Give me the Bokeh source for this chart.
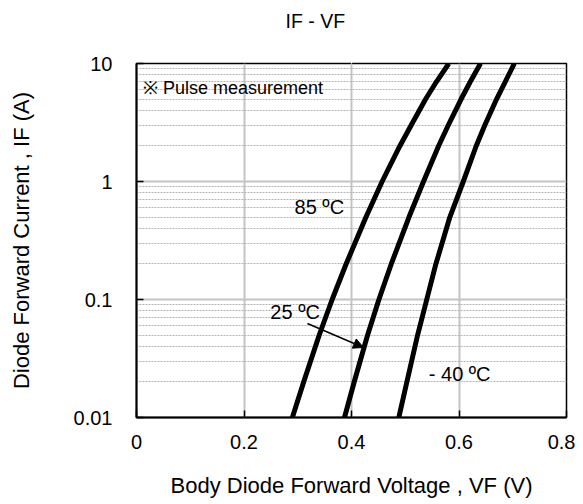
from bokeh.plotting import figure
from bokeh.models import (Range1d, FixedTicker, CustomJSTickFormatter, Label, Arrow,
                          NormalHead, ColumnDataSource, Title, LinearAxis)
from bokeh.embed import file_html
from bokeh.resources import INLINE

# ---- data ----
current_a = [0.01, 0.02, 0.05, 0.1, 0.2, 0.5, 1, 2, 3, 5, 7, 10]
vf_85c = [0.290, 0.311, 0.340, 0.364, 0.390, 0.427, 0.457, 0.490, 0.511, 0.538, 0.558, 0.581]
vf_25c = [0.387, 0.405, 0.430, 0.451, 0.474, 0.507, 0.534, 0.562, 0.580, 0.604, 0.621, 0.640]
vf_m40c = [0.488, 0.503, 0.523, 0.540, 0.557, 0.583, 0.608, 0.632, 0.648, 0.670, 0.686, 0.703]

x_ticks = [0, 0.2, 0.4, 0.6, 0.8]
y_ticks = [0.01, 0.1, 1, 10]
y_minor = [m * d for d in [0.01, 0.1, 1] for m in range(2, 10)]
spacer_tick = [0.4]

FONT = "Liberation Sans"

p = figure(width=575, height=504, x_axis_type="linear", y_axis_type="log",
           x_range=Range1d(0, 0.8), y_range=Range1d(0.01, 10),
           output_backend="svg", toolbar_location=None,
           min_border_left=136, min_border_right=9,
           min_border_top=63, min_border_bottom=87)

p.outline_line_color = "black"
p.outline_line_width = 1.5
p.background_fill_color = "white"
p.border_fill_color = "white"

xax = p.below[0]
yax = p.left[0]

# title: a white, label-less top axis used as spacing, then the title above it
spacer_axis = LinearAxis(ticker=FixedTicker(ticks=spacer_tick),
                         formatter=CustomJSTickFormatter(code="return '';"),
                         axis_line_color=None,
                         major_tick_line_color="white", minor_tick_line_color=None,
                         major_tick_in=0, major_tick_out=27, minor_tick_in=0,
                         minor_tick_out=0, major_label_standoff=0,
                         major_label_text_font_size="0px")
p.add_layout(spacer_axis, "above")
main_title = Title(text="IF - VF", text_font=FONT, text_font_size="19.5px",
                   text_font_style="normal", text_color="black",
                   align="left", offset=149, standoff=9)
p.add_layout(main_title, "above")

# axes
xax.ticker = FixedTicker(ticks=x_ticks)
xax.formatter = CustomJSTickFormatter(code="return String(Math.round(tick*10)/10);")
yax.ticker = FixedTicker(ticks=y_ticks, minor_ticks=y_minor)
yax.formatter = CustomJSTickFormatter(code="return String(tick);")

for ax in (xax, yax):
    ax.axis_line_color = "black"
    ax.axis_line_width = 2
    ax.major_tick_in = 7
    ax.major_tick_out = 0
    ax.major_tick_line_color = "black"
    ax.major_tick_line_width = 1.5
    ax.minor_tick_in = 0
    ax.minor_tick_out = 0
    ax.major_label_text_font = FONT
    ax.major_label_text_font_size = "20px"
    ax.major_label_text_color = "black"
    ax.axis_label_text_font = FONT
    ax.axis_label_text_font_size = "22px"
    ax.axis_label_text_font_style = "normal"
    ax.axis_label_text_color = "black"

xax.axis_label = "Body Diode Forward Voltage , VF (V)"
yax.axis_label = "Diode Forward Current , IF (A)"
xax.major_label_standoff = 17
xax.axis_label_standoff = 21
yax.major_label_standoff = 24
yax.axis_label_standoff = 37

# grids
p.xgrid.grid_line_color = "#c4c4c4"
p.xgrid.grid_line_width = 2
p.ygrid.grid_line_color = "#c4c4c4"
p.ygrid.grid_line_width = 2
p.ygrid.minor_grid_line_color = "#b4b4b4"
p.ygrid.minor_grid_line_width = 1
p.ygrid.minor_grid_line_dash = "2 1"

# curves
for vf in (vf_85c, vf_25c, vf_m40c):
    src = ColumnDataSource(dict(v=vf, i=current_a))
    p.line("v", "i", source=src, line_color="black", line_width=5, line_join="round")

# annotations
labels = [
    ("\u203b Pulse measurement", 0.012, 6.18, "18px"),
    ("85 \u00baC", 0.294, 0.605, "20px"),
    ("25 \u00baC", 0.249, 0.078, "20px"),
    ("- 40 \u00baC", 0.5438, 0.0234, "20px"),
]
for txt, x, y, fs in labels:
    p.add_layout(Label(x=x, y=y, text=txt, text_font=FONT, text_font_size=fs,
                       text_baseline="middle", text_align="left", text_color="black"))

p.add_layout(Arrow(x_start=0.318, y_start=0.0626, x_end=0.4223, y_end=0.0392,
                   line_color="black", line_width=1.5,
                   end=NormalHead(size=10, fill_color="black", line_color="black")))

open("out.html", "w").write(file_html(p, INLINE))
